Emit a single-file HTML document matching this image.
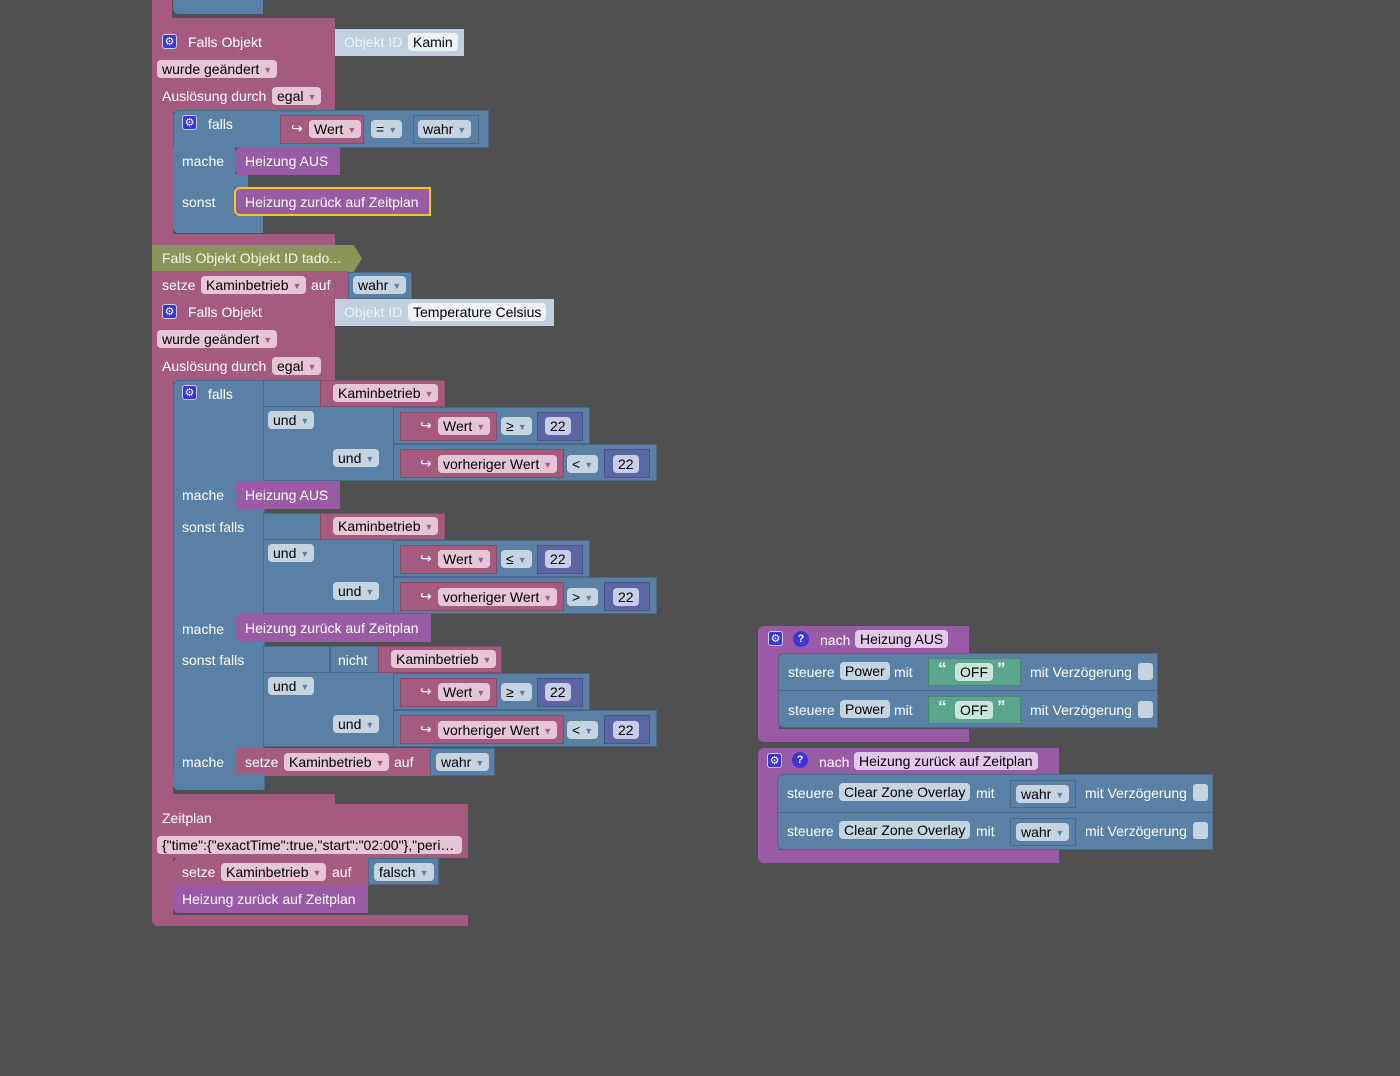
<!DOCTYPE html>
<html><head><meta charset="utf-8"><style>
body{margin:0;width:1400px;height:1076px;background:#505050;overflow:hidden;font-family:"Liberation Sans",Arial,sans-serif;font-size:14px}
div,span{position:absolute;box-sizing:border-box}
.p{background:#a55b80}.bl{background:#5b80a5}.pu{background:#995ba5}.gr{background:#5ba58c}.nb{background:#5b67a5}.oi{background:#c0d0de}
.bd{border:1px solid rgba(0,0,0,.18)}
.l{color:#fff;line-height:16px;white-space:nowrap}
.f{height:18px;line-height:18px;padding:0 5px;border-radius:4px;color:#000;white-space:nowrap}
.fp{background:#e6c6d6}.fb{background:#c6d4e2}.fn{background:#c9cde8}.fu{background:#e3c8ea}.fw{background:#eef2f5}.fg{background:#c8e6da}
span.a{position:static;font-size:9px;margin-left:4px;vertical-align:1px}
.fp .a{color:#a55b80}.fb .a{color:#5b80a5}
.ic{width:15px;height:15px;background:#3a36d8;border-radius:3px;color:#fff;font-size:11px;line-height:15px;text-align:center;border:1px solid #ccd}
.q{width:16px;height:16px;border-radius:8px;background:#3a36d8;color:#fff;font-size:11px;line-height:16px;text-align:center;font-weight:bold}
.cb{width:15px;height:17px;background:#c6d4e2;border-radius:3px}
</style></head><body>

<!-- top remnant -->
<div class="p" style="left:152px;top:0;width:20px;height:30px"></div>
<div class="p" style="left:152px;top:18px;width:183px;height:12px"></div>
<div class="bl" style="left:173px;top:0;width:90px;height:14px;border-radius:0 0 0 6px"></div>

<!-- Event 1 -->
<div class="p" style="left:152px;top:28px;width:183px;height:84px"></div>
<div class="p" style="left:152px;top:110px;width:21px;height:135px"></div>
<div class="p" style="left:152px;top:234px;width:183px;height:11px"></div>
<div class="ic" style="left:162px;top:34px">⚙</div>
<span class="l" style="left:188px;top:34px">Falls Objekt</span>
<div class="oi" style="left:335px;top:29px;width:129px;height:27px"></div>
<span class="l" style="left:344px;top:34px;color:#eef3f7">Objekt ID</span>
<div class="f fw" style="left:408px;top:33px">Kamin</div>
<div class="f fp" style="left:157px;top:60px">wurde geändert<span class="a">▼</span></div>
<span class="l" style="left:162px;top:88px">Auslösung durch</span>
<div class="f fp" style="left:272px;top:87px">egal<span class="a">▼</span></div>

<div class="bl bd" style="left:173px;top:110px;width:316px;height:38px;border-radius:6px 0 0 0"></div>
<div class="bl" style="left:173px;top:147px;width:62px;height:86px;border-radius:0 0 0 6px"></div>
<div class="bl" style="left:173px;top:174px;width:75px;height:14px"></div>
<div class="bl" style="left:173px;top:215px;width:90px;height:18px;border-radius:0 0 0 6px"></div>
<div class="ic" style="left:182px;top:115px">⚙</div>
<span class="l" style="left:208px;top:116px">falls</span>
<div class="p bd" style="left:280px;top:115px;width:84px;height:29px"></div>
<span class="l" style="left:291px;top:120px">↪</span>
<div class="f fp" style="left:309px;top:120px">Wert<span class="a">▼</span></div>
<div class="f fb" style="left:371px;top:120px">=<span class="a">▼</span></div>
<div class="bl bd" style="left:413px;top:115px;width:66px;height:29px"></div>
<div class="f fb" style="left:418px;top:120px">wahr<span class="a">▼</span></div>
<span class="l" style="left:182px;top:153px">mache</span>
<div class="pu" style="left:235px;top:147px;width:105px;height:28px;border-radius:6px 0 0 6px"></div>
<span class="l" style="left:245px;top:153px">Heizung AUS</span>
<span class="l" style="left:182px;top:194px">sonst</span>
<div class="pu" style="left:234px;top:187px;width:197px;height:29px;border:2px solid #f5c518;border-radius:6px 0 0 6px"></div>
<span class="l" style="left:245px;top:194px">Heizung zurück auf Zeitplan</span>

<!-- comment -->
<div style="left:152px;top:245px;width:210px;height:27px;background:#8c9558;clip-path:polygon(0 0,96% 0,100% 50%,96% 100%,0 100%)"></div>
<span class="l" style="left:162px;top:250px;color:#f4f4e8">Falls Objekt Objekt ID tado...</span>

<!-- setze -->
<div class="p" style="left:152px;top:271px;width:196px;height:28px"></div>
<span class="l" style="left:162px;top:277px">setze</span>
<div class="f fp" style="left:201px;top:276px">Kaminbetrieb<span class="a">▼</span></div>
<span class="l" style="left:311px;top:277px">auf</span>
<div class="bl bd" style="left:348px;top:272px;width:64px;height:27px"></div>
<div class="f fb" style="left:353px;top:276px">wahr<span class="a">▼</span></div>

<!-- Event 2 -->
<div class="p" style="left:152px;top:298px;width:183px;height:84px"></div>
<div class="p" style="left:152px;top:380px;width:21px;height:425px"></div>
<div class="p" style="left:152px;top:794px;width:183px;height:11px"></div>
<div class="ic" style="left:162px;top:304px">⚙</div>
<span class="l" style="left:188px;top:304px">Falls Objekt</span>
<div class="oi" style="left:335px;top:299px;width:219px;height:27px"></div>
<span class="l" style="left:344px;top:304px;color:#eef3f7">Objekt ID</span>
<div class="f fw" style="left:408px;top:303px">Temperature Celsius</div>
<div class="f fp" style="left:157px;top:330px">wurde geändert<span class="a">▼</span></div>
<span class="l" style="left:162px;top:358px">Auslösung durch</span>
<div class="f fp" style="left:272px;top:357px">egal<span class="a">▼</span></div>

<!-- big if -->
<div class="bl bd" style="left:173px;top:380px;width:92px;height:410px;border-radius:6px 0 0 6px"></div>
<div class="bl bd" style="left:263px;top:380px;width:67px;height:101px"></div>
<div class="bl bd" style="left:263px;top:406px;width:131px;height:75px"></div>
<div class="bl bd" style="left:393px;top:407px;width:197px;height:37px"></div>
<div class="bl bd" style="left:393px;top:444px;width:264px;height:37px"></div>
<div class="bl bd" style="left:263px;top:513px;width:67px;height:101px"></div>
<div class="bl bd" style="left:263px;top:539px;width:131px;height:75px"></div>
<div class="bl bd" style="left:393px;top:540px;width:197px;height:37px"></div>
<div class="bl bd" style="left:393px;top:577px;width:264px;height:37px"></div>
<div class="bl bd" style="left:263px;top:646px;width:67px;height:101px"></div>
<div class="bl bd" style="left:330px;top:646px;width:50px;height:27px"></div>
<div class="bl bd" style="left:263px;top:672px;width:131px;height:75px"></div>
<div class="bl bd" style="left:393px;top:673px;width:197px;height:37px"></div>
<div class="bl bd" style="left:393px;top:710px;width:264px;height:37px"></div>

<div class="ic" style="left:182px;top:385px">⚙</div>
<span class="l" style="left:208px;top:386px">falls</span>
<span class="l" style="left:182px;top:487px">mache</span>
<span class="l" style="left:182px;top:519px">sonst falls</span>
<span class="l" style="left:182px;top:621px">mache</span>
<span class="l" style="left:182px;top:652px">sonst falls</span>
<span class="l" style="left:182px;top:754px">mache</span>

<div class="p bd" style="left:320px;top:380px;width:125px;height:27px"></div>
<div class="f fp" style="left:333px;top:384px">Kaminbetrieb<span class="a">▼</span></div>
<div class="f fb" style="left:268px;top:411px">und<span class="a">▼</span></div>
<div class="f fb" style="left:333px;top:449px">und<span class="a">▼</span></div>
<div class="p bd" style="left:400px;top:412px;width:97px;height:29px"></div>
<span class="l" style="left:420px;top:417px">↪</span>
<div class="f fp" style="left:438px;top:417px">Wert<span class="a">▼</span></div>
<div class="f fb" style="left:501px;top:417px">≥<span class="a">▼</span></div>
<div class="nb bd" style="left:537px;top:412px;width:46px;height:29px"></div>
<div class="f fn" style="left:545px;top:417px">22</div>
<div class="p bd" style="left:400px;top:449px;width:164px;height:29px"></div>
<span class="l" style="left:420px;top:455px">↪</span>
<div class="f fp" style="left:438px;top:455px">vorheriger Wert<span class="a">▼</span></div>
<div class="f fb" style="left:567px;top:455px">&lt;<span class="a">▼</span></div>
<div class="nb bd" style="left:604px;top:449px;width:46px;height:29px"></div>
<div class="f fn" style="left:613px;top:455px">22</div>
<div class="pu" style="left:235px;top:481px;width:105px;height:28px;border-radius:6px 0 0 6px"></div>
<span class="l" style="left:245px;top:487px">Heizung AUS</span>

<div class="p bd" style="left:320px;top:513px;width:125px;height:27px"></div>
<div class="f fp" style="left:333px;top:517px">Kaminbetrieb<span class="a">▼</span></div>
<div class="f fb" style="left:268px;top:544px">und<span class="a">▼</span></div>
<div class="f fb" style="left:333px;top:582px">und<span class="a">▼</span></div>
<div class="p bd" style="left:400px;top:545px;width:97px;height:29px"></div>
<span class="l" style="left:420px;top:550px">↪</span>
<div class="f fp" style="left:438px;top:550px">Wert<span class="a">▼</span></div>
<div class="f fb" style="left:501px;top:550px">≤<span class="a">▼</span></div>
<div class="nb bd" style="left:537px;top:545px;width:46px;height:29px"></div>
<div class="f fn" style="left:545px;top:550px">22</div>
<div class="p bd" style="left:400px;top:582px;width:164px;height:29px"></div>
<span class="l" style="left:420px;top:588px">↪</span>
<div class="f fp" style="left:438px;top:588px">vorheriger Wert<span class="a">▼</span></div>
<div class="f fb" style="left:567px;top:588px">&gt;<span class="a">▼</span></div>
<div class="nb bd" style="left:604px;top:582px;width:46px;height:29px"></div>
<div class="f fn" style="left:613px;top:588px">22</div>
<div class="pu" style="left:235px;top:614px;width:196px;height:28px;border-radius:6px 0 0 6px"></div>
<span class="l" style="left:245px;top:620px">Heizung zurück auf Zeitplan</span>

<span class="l" style="left:338px;top:652px">nicht</span>
<div class="p bd" style="left:378px;top:646px;width:124px;height:27px"></div>
<div class="f fp" style="left:391px;top:650px">Kaminbetrieb<span class="a">▼</span></div>
<div class="f fb" style="left:268px;top:677px">und<span class="a">▼</span></div>
<div class="f fb" style="left:333px;top:715px">und<span class="a">▼</span></div>
<div class="p bd" style="left:400px;top:678px;width:97px;height:29px"></div>
<span class="l" style="left:420px;top:683px">↪</span>
<div class="f fp" style="left:438px;top:683px">Wert<span class="a">▼</span></div>
<div class="f fb" style="left:501px;top:683px">≥<span class="a">▼</span></div>
<div class="nb bd" style="left:537px;top:678px;width:46px;height:29px"></div>
<div class="f fn" style="left:545px;top:683px">22</div>
<div class="p bd" style="left:400px;top:715px;width:164px;height:29px"></div>
<span class="l" style="left:420px;top:721px">↪</span>
<div class="f fp" style="left:438px;top:721px">vorheriger Wert<span class="a">▼</span></div>
<div class="f fb" style="left:567px;top:721px">&lt;<span class="a">▼</span></div>
<div class="nb bd" style="left:604px;top:715px;width:46px;height:29px"></div>
<div class="f fn" style="left:613px;top:721px">22</div>
<div class="p" style="left:235px;top:748px;width:196px;height:28px;border-radius:6px 0 0 6px"></div>
<span class="l" style="left:245px;top:754px">setze</span>
<div class="f fp" style="left:284px;top:753px">Kaminbetrieb<span class="a">▼</span></div>
<span class="l" style="left:394px;top:754px">auf</span>
<div class="bl bd" style="left:430px;top:748px;width:65px;height:28px"></div>
<div class="f fb" style="left:436px;top:753px">wahr<span class="a">▼</span></div>
<div class="bl" style="left:173px;top:774px;width:90px;height:16px;border-radius:0 0 0 6px"></div>

<!-- Zeitplan -->
<div class="p" style="left:152px;top:804px;width:316px;height:54px"></div>
<div class="p" style="left:152px;top:856px;width:21px;height:70px;border-radius:0 0 0 6px"></div>
<div class="p" style="left:152px;top:915px;width:316px;height:11px;border-radius:0 0 0 6px"></div>
<span class="l" style="left:162px;top:810px">Zeitplan</span>
<div class="f fp" style="left:157px;top:836px;width:305px;overflow:hidden">{"time":{"exactTime":true,"start":"02:00"},"peri…</div>
<div class="p" style="left:173px;top:858px;width:196px;height:28px;border-radius:6px 0 0 0"></div>
<span class="l" style="left:182px;top:864px">setze</span>
<div class="f fp" style="left:221px;top:863px">Kaminbetrieb<span class="a">▼</span></div>
<span class="l" style="left:332px;top:864px">auf</span>
<div class="bl bd" style="left:368px;top:858px;width:71px;height:27px"></div>
<div class="f fb" style="left:374px;top:863px">falsch<span class="a">▼</span></div>
<div class="pu" style="left:173px;top:885px;width:195px;height:28px;border-radius:0 0 0 6px"></div>
<span class="l" style="left:182px;top:891px">Heizung zurück auf Zeitplan</span>

<!-- Procedure 1 -->
<div class="pu" style="left:758px;top:626px;width:211px;height:28px;border-radius:6px 0 0 0"></div>
<div class="pu" style="left:758px;top:652px;width:21px;height:90px;border-radius:0 0 0 6px"></div>
<div class="pu" style="left:758px;top:729px;width:211px;height:13px;border-radius:0 0 0 6px"></div>
<div class="ic" style="left:768px;top:631px">⚙</div>
<div class="q" style="left:793px;top:631px">?</div>
<span class="l" style="left:820px;top:632px">nach</span>
<div class="f fu" style="left:855px;top:630px">Heizung AUS</div>
<div class="bl bd" style="left:778px;top:653px;width:380px;height:38px;border-radius:6px 0 0 0"></div>
<div class="bl bd" style="left:778px;top:690px;width:380px;height:38px;border-radius:0 0 0 6px"></div>
<span class="l" style="left:788px;top:664px">steuere</span>
<div class="f fb" style="left:840px;top:662px">Power</div>
<span class="l" style="left:894px;top:664px">mit</span>
<div class="gr bd" style="left:928px;top:658px;width:93px;height:28px"></div>
<span class="l" style="left:938px;top:661px;font-weight:bold;font-size:17px">“</span>
<div class="f fg" style="left:955px;top:663px">OFF</div>
<span class="l" style="left:997px;top:661px;font-weight:bold;font-size:17px">”</span>
<span class="l" style="left:1030px;top:664px">mit Verzögerung</span>
<div class="cb" style="left:1138px;top:663px"></div>
<span class="l" style="left:788px;top:702px">steuere</span>
<div class="f fb" style="left:840px;top:700px">Power</div>
<span class="l" style="left:894px;top:702px">mit</span>
<div class="gr bd" style="left:928px;top:696px;width:93px;height:28px"></div>
<span class="l" style="left:938px;top:699px;font-weight:bold;font-size:17px">“</span>
<div class="f fg" style="left:955px;top:701px">OFF</div>
<span class="l" style="left:997px;top:699px;font-weight:bold;font-size:17px">”</span>
<span class="l" style="left:1030px;top:702px">mit Verzögerung</span>
<div class="cb" style="left:1138px;top:701px"></div>

<!-- Procedure 2 -->
<div class="pu" style="left:758px;top:748px;width:301px;height:28px;border-radius:6px 0 0 0"></div>
<div class="pu" style="left:758px;top:774px;width:21px;height:89px;border-radius:0 0 0 6px"></div>
<div class="pu" style="left:758px;top:850px;width:301px;height:13px;border-radius:0 0 0 6px"></div>
<div class="ic" style="left:767px;top:753px">⚙</div>
<div class="q" style="left:792px;top:752px">?</div>
<span class="l" style="left:819px;top:754px">nach</span>
<div class="f fu" style="left:854px;top:752px">Heizung zurück auf Zeitplan</div>
<div class="bl bd" style="left:777px;top:774px;width:436px;height:39px;border-radius:6px 0 0 0"></div>
<div class="bl bd" style="left:777px;top:812px;width:436px;height:38px;border-radius:0 0 0 6px"></div>
<span class="l" style="left:787px;top:785px">steuere</span>
<div class="f fb" style="left:839px;top:783px">Clear Zone Overlay</div>
<span class="l" style="left:976px;top:785px">mit</span>
<div class="bl bd" style="left:1010px;top:780px;width:66px;height:28px"></div>
<div class="f fb" style="left:1016px;top:785px">wahr<span class="a">▼</span></div>
<span class="l" style="left:1085px;top:785px">mit Verzögerung</span>
<div class="cb" style="left:1193px;top:784px"></div>
<span class="l" style="left:787px;top:823px">steuere</span>
<div class="f fb" style="left:839px;top:821px">Clear Zone Overlay</div>
<span class="l" style="left:976px;top:823px">mit</span>
<div class="bl bd" style="left:1010px;top:818px;width:66px;height:28px"></div>
<div class="f fb" style="left:1016px;top:823px">wahr<span class="a">▼</span></div>
<span class="l" style="left:1085px;top:823px">mit Verzögerung</span>
<div class="cb" style="left:1193px;top:822px"></div>

</body></html>
